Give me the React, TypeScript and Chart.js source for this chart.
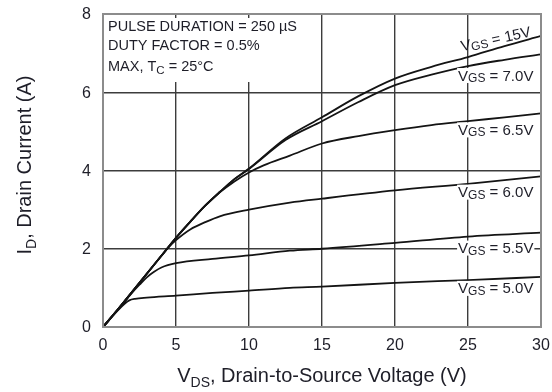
import { useEffect, useRef } from "react";
import { Chart, registerables } from "chart.js";

Chart.register(...registerables);

const FONT = "'Liberation Sans', Arial, Helvetica, sans-serif";

// Axis ticks
const xTicks = [0, 5, 10, 15, 20, 25, 30];
const yTicks = [0, 2, 4, 6, 8];

// Output characteristics: VDS (V) and ID (A) per gate voltage
const vds15 = [0, 1, 2, 3, 4, 5, 6, 7, 8, 9, 10, 12.5, 15, 17.5, 20, 22.5, 25, 27.5, 30];
const id15 = [0, 0.44, 0.9, 1.36, 1.82, 2.28, 2.7, 3.1, 3.45, 3.78, 4.05, 4.82, 5.36, 5.9, 6.35, 6.65, 6.9, 7.18, 7.44];

const vds70 = [0, 1, 2, 3, 4, 5, 6, 7, 8, 9, 10, 12.5, 15, 17.5, 20, 22.5, 25, 27.5, 30];
const id70 = [0, 0.44, 0.9, 1.36, 1.82, 2.28, 2.7, 3.1, 3.45, 3.78, 4.04, 4.78, 5.26, 5.75, 6.18, 6.45, 6.67, 6.83, 6.97];

const vds65 = [0, 1, 2, 3, 4, 5, 6, 7, 8, 9, 10, 11, 12.8, 15, 17.5, 20, 22.5, 25, 27.5, 30];
const id65 = [0, 0.44, 0.9, 1.36, 1.82, 2.28, 2.7, 3.1, 3.44, 3.72, 3.95, 4.13, 4.38, 4.69, 4.88, 5.03, 5.16, 5.26, 5.36, 5.46];

const vds60 = [0, 1, 2, 3, 4, 4.5, 5, 6, 7, 8, 10, 12.8, 15, 20, 25, 30];
const id60 = [0, 0.44, 0.9, 1.36, 1.82, 2.04, 2.22, 2.5, 2.68, 2.83, 3.0, 3.18, 3.28, 3.49, 3.66, 3.85];

const vds55 = [0, 1, 2, 2.5, 3, 3.5, 4, 5, 7.5, 10, 12.8, 15, 20, 25, 30];
const id55 = [0, 0.44, 0.88, 1.08, 1.27, 1.41, 1.52, 1.63, 1.74, 1.83, 1.95, 2.0, 2.15, 2.31, 2.41];

const vds50 = [0, 1, 1.5, 1.8, 2.2, 3, 5, 7.5, 10, 12.8, 15, 20, 25, 30];
const id50 = [0, 0.42, 0.6, 0.68, 0.72, 0.75, 0.8, 0.87, 0.93, 1.0, 1.03, 1.13, 1.2, 1.28];

const gateVoltages = ["15V", "7.0V", "6.5V", "6.0V", "5.5V", "5.0V"];
const curveX = [vds15, vds70, vds65, vds60, vds55, vds50];
const curveY = [id15, id70, id65, id60, id55, id50];

// Where each VGS label sits, in axis units (VDS, ID)
const labelAt: [number, number][] = [
  [26.9, 7.36],
  [26.9, 6.44],
  [26.9, 5.05],
  [26.9, 3.46],
  [26.9, 2.03],
  [26.9, 1.0],
];

const INK = "#1e1e28";

type Seg = { t: string; size: number; dy?: number };

function segWidth(ctx: CanvasRenderingContext2D, segs: Seg[]) {
  let w = 0;
  for (const s of segs) {
    ctx.font = `${s.size}px ${FONT}`;
    w += ctx.measureText(s.t).width;
  }
  return w;
}

function drawSegs(ctx: CanvasRenderingContext2D, segs: Seg[], x: number, y: number) {
  let cx = x;
  ctx.textBaseline = "alphabetic";
  ctx.textAlign = "left";
  for (const s of segs) {
    ctx.font = `${s.size}px ${FONT}`;
    ctx.fillText(s.t, cx, y + (s.dy || 0));
    cx += ctx.measureText(s.t).width;
  }
}

function vgsSegs(v: string): Seg[] {
  return [
    { t: "V", size: 15 },
    { t: "GS", size: 12, dy: 1.5 },
    { t: " = " + v, size: 15 },
  ];
}

const decorPlugin = {
  id: "decor",
  afterDraw(chart: any) {
    const ctx: CanvasRenderingContext2D = chart.ctx;
    const a = chart.chartArea;
    const xs = chart.scales.x;
    const ys = chart.scales.y;
    ctx.save();

    // tick labels
    ctx.fillStyle = INK;
    ctx.font = `16px ${FONT}`;
    ctx.textAlign = "center";
    ctx.textBaseline = "top";
    xTicks.forEach((t) => ctx.fillText(String(t), xs.getPixelForValue(t), a.bottom + 11));
    ctx.textAlign = "right";
    ctx.textBaseline = "middle";
    yTicks.forEach((t) => ctx.fillText(String(t), a.left - 12, ys.getPixelForValue(t) + 1));

    // test-condition box
    ctx.fillStyle = "#ffffff";
    ctx.fillRect(a.left + 2, a.top + 4, 196, 64);
    ctx.fillStyle = INK;
    drawSegs(ctx, [{ t: "PULSE DURATION = 250 µS", size: 14.5 }], a.left + 5, 30.5);
    drawSegs(ctx, [{ t: "DUTY FACTOR = 0.5%", size: 14.5 }], a.left + 5, 49.5);
    drawSegs(
      ctx,
      [
        { t: "MAX, T", size: 14.5 },
        { t: "C", size: 11.5, dy: 3 },
        { t: " = 25°C", size: 14.5 },
      ],
      a.left + 5,
      70.5
    );

    // VGS labels
    gateVoltages.forEach((v, i) => {
      const segs = vgsSegs(v);
      const w = segWidth(ctx, segs);
      const cx = xs.getPixelForValue(labelAt[i][0]);
      const cy = ys.getPixelForValue(labelAt[i][1]);
      if (i === 0) {
        ctx.save();
        ctx.translate(cx, cy);
        ctx.rotate((-12 * Math.PI) / 180);
        ctx.fillStyle = INK;
        drawSegs(ctx, segs, -w / 2, 5);
        ctx.restore();
      } else {
        ctx.fillStyle = "#ffffff";
        ctx.fillRect(cx - w / 2 - 1, cy - 7, w + 2, 15);
        ctx.fillStyle = INK;
        drawSegs(ctx, segs, cx - w / 2, cy + 5.5);
      }
    });

    // plot frame
    ctx.strokeStyle = "#8c8c8c";
    ctx.lineWidth = 2;
    ctx.strokeRect(a.left, a.top, a.right - a.left, a.bottom - a.top);

    // axis titles
    ctx.fillStyle = INK;
    const xt: Seg[] = [
      { t: "V", size: 20 },
      { t: "DS", size: 14, dy: 5 },
      { t: ", Drain-to-Source Voltage (V)", size: 20 },
    ];
    const xw = segWidth(ctx, xt);
    drawSegs(ctx, xt, (a.left + a.right) / 2 - xw / 2, 382);

    const yt: Seg[] = [
      { t: "I", size: 20 },
      { t: "D", size: 14, dy: 5 },
      { t: ", Drain Current (A)", size: 20 },
    ];
    const yw = segWidth(ctx, yt);
    ctx.save();
    ctx.translate(31, 165);
    ctx.rotate(-Math.PI / 2);
    drawSegs(ctx, yt, -yw / 2, 0);
    ctx.restore();

    ctx.restore();
  },
};

export default function App() {
  const ref = useRef<HTMLCanvasElement | null>(null);

  useEffect(() => {
    if (!ref.current) return;
    const datasets = gateVoltages.map((v, i) => ({
      label: "VGS = " + v,
      data: curveX[i].map((x, j) => ({ x, y: curveY[i][j] })),
      showLine: true,
      borderColor: "#141414",
      borderWidth: 1.8,
      pointRadius: 0,
      cubicInterpolationMode: "monotone" as const,
      fill: false,
    }));

    const edge = (lo: number, hi: number) => (c: any) =>
      c.tick && (c.tick.value === lo || c.tick.value === hi) ? "rgba(0,0,0,0)" : "#3c3c3c";

    const chart = new Chart(ref.current, {
      type: "scatter",
      data: { datasets },
      options: {
        responsive: false,
        animation: false,
        events: [],
        layout: { padding: { top: 14, right: 11, left: 0, bottom: 0 } },
        plugins: { legend: { display: false }, tooltip: { enabled: false } },
        scales: {
          x: {
            type: "linear",
            min: 0,
            max: 30,
            afterBuildTicks: (s: any) => {
              s.ticks = xTicks.map((value) => ({ value }));
            },
            afterFit: (s: any) => {
              s.height = 65;
            },
            grid: { color: edge(0, 30), lineWidth: 1.4, drawTicks: false },
            border: { display: false },
            ticks: { display: false },
          },
          y: {
            type: "linear",
            min: 0,
            max: 8,
            afterBuildTicks: (s: any) => {
              s.ticks = yTicks.map((value) => ({ value }));
            },
            afterFit: (s: any) => {
              s.width = 103;
            },
            grid: { color: edge(0, 8), lineWidth: 1.4, drawTicks: false },
            border: { display: false },
            ticks: { display: false },
          },
        },
      },
      plugins: [decorPlugin],
    });
    return () => chart.destroy();
  }, []);

  return (
    <div style={{ position: "fixed", left: 0, top: 0, width: 552, height: 392, background: "#fff" }}>
      <canvas ref={ref} width={552} height={392} style={{ display: "block" }} />
    </div>
  );
}
